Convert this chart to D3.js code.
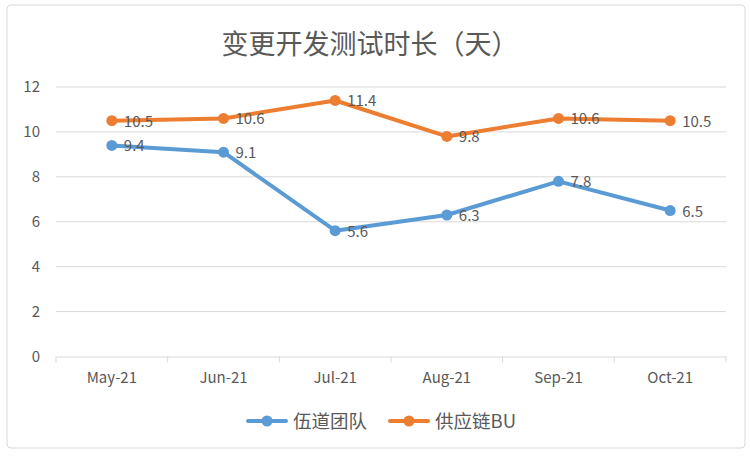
<!DOCTYPE html>
<html>
<head>
<meta charset="utf-8">
<script src="https://cdn.jsdelivr.net/npm/d3@7"></script>
<style>
  body { margin: 0; background: #fff; }
  text { font-family: "Noto Sans CJK SC", "Noto Sans", sans-serif; }
</style>
</head>
<body>
<div id="plot"></div>
<script>
var months = ["May-21", "Jun-21", "Jul-21", "Aug-21", "Sep-21", "Oct-21"]
var wudao = [9.4, 9.1, 5.6, 6.3, 7.8, 6.5]
var supply = [10.5, 10.6, 11.4, 9.8, 10.6, 10.5]
var yTicks = [0, 2, 4, 6, 8, 10, 12]
var seriesNames = ["伍道团队", "供应链BU"]

var colors = ["#5b9bd5", "#ed7d31"]
var W = 750, H = 456
var plot = { left: 56, right: 726, top: 87, bottom: 356.5 }

var svg = d3.select("#plot")
  .append("svg")
  .attr("width", W)
  .attr("height", H)

// outer frame
svg.append("rect")
  .attr("x", 7).attr("y", 5)
  .attr("width", 738).attr("height", 443)
  .attr("rx", 4)
  .attr("fill", "#fff")
  .attr("stroke", "#d9d9d9")

svg.append("text")
  .attr("x", 370).attr("y", 54)
  .attr("text-anchor", "middle")
  .attr("fill", "#595959")
  .style("font-size", "27px")
  .text("变更开发测试时长（天）")

var xScale = d3.scaleBand()
  .domain(months)
  .range([plot.left, plot.right])

var yScale = d3.scaleLinear()
  .domain([0, 12])
  .range([plot.bottom, plot.top])

// gridlines
svg.append("g")
  .selectAll("line")
  .data(yTicks.filter(d => d > 0))
  .enter()
  .append("line")
    .attr("x1", plot.left).attr("x2", plot.right)
    .attr("y1", d => yScale(d)).attr("y2", d => yScale(d))
    .attr("stroke", "#d9d9d9")

// y axis labels
var yAxis = svg.append("g")
  .attr("transform", "translate(" + (plot.left - 16) + ",0)")
  .call(d3.axisLeft(yScale).tickValues(yTicks).tickSize(0).tickPadding(0))
yAxis.select(".domain").remove()
yAxis.selectAll("text")
  .attr("fill", "#595959")
  .style("font-size", "15px")

// x axis
var xAxis = svg.append("g")
  .attr("transform", "translate(0," + plot.bottom + ")")
  .call(d3.axisBottom(xScale).tickSize(0).tickPadding(16))
xAxis.select(".domain").attr("stroke", "#d9d9d9")
xAxis.selectAll("text")
  .attr("fill", "#595959")
  .style("font-size", "15px")

// band boundary ticks
svg.append("g")
  .selectAll("line")
  .data(months.concat(["end"]))
  .enter()
  .append("line")
    .attr("x1", (d, i) => plot.left + i * xScale.step())
    .attr("x2", (d, i) => plot.left + i * xScale.step())
    .attr("y1", plot.bottom).attr("y2", plot.bottom + 6)
    .attr("stroke", "#d9d9d9")

var cx = m => xScale(m) + xScale.bandwidth() / 2

var line = d3.line()
  .x((d, i) => cx(months[i]))
  .y(d => yScale(d))

var allSeries = [wudao, supply]

allSeries.forEach(function (vals, s) {
  var g = svg.append("g")
  g.append("path")
    .datum(vals)
    .attr("d", line)
    .attr("fill", "none")
    .attr("stroke", colors[s])
    .attr("stroke-width", 4)
    .attr("stroke-linejoin", "round")
    .attr("stroke-linecap", "round")
  g.selectAll("circle")
    .data(vals)
    .enter()
    .append("circle")
      .attr("cx", (d, i) => cx(months[i]))
      .attr("cy", d => yScale(d))
      .attr("r", 5.5)
      .attr("fill", colors[s])
  g.selectAll("text")
    .data(vals)
    .enter()
    .append("text")
      .attr("x", (d, i) => cx(months[i]) + 12)
      .attr("y", d => yScale(d) + 6)
      .attr("fill", "#595959")
      .style("font-size", "15px")
      .text(d => d.toFixed(1))
})

// legend
var legendX = [248, 390]
seriesNames.forEach(function (name, s) {
  var lg = svg.append("g")
    .attr("transform", "translate(" + legendX[s] + ",421)")
  lg.append("line")
    .attr("x1", 0).attr("x2", 38)
    .attr("stroke", colors[s])
    .attr("stroke-width", 4)
    .attr("stroke-linecap", "round")
  lg.append("circle")
    .attr("cx", 19).attr("r", 5.5)
    .attr("fill", colors[s])
  lg.append("text")
    .attr("x", 45).attr("y", 6.5)
    .attr("fill", "#595959")
    .style("font-size", "18.5px")
    .text(name)
})
</script>
</body>
</html>
